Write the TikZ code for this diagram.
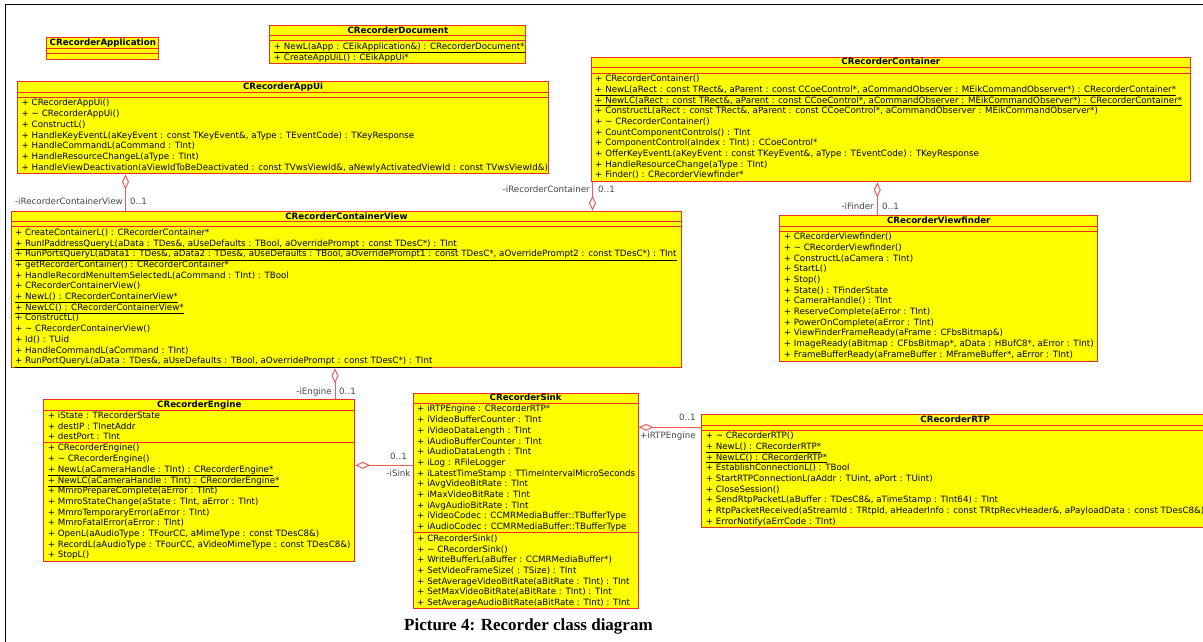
\documentclass[tikz,border=0pt]{standalone}
\usepackage{fontspec}
\setmainfont{DejaVu Sans}
\newfontfamily\capfont{Liberation Serif}
\usetikzlibrary{arrows.meta}
\definecolor{boxfill}{RGB}{255,255,0}
\definecolor{boxline}{RGB}{235,45,40}
\definecolor{linkline}{RGB}{240,90,90}
\definecolor{rolegray}{RGB}{70,70,70}

\begin{document}
\begin{tikzpicture}[x=1pt, y=-1pt,
        classbox/.style={draw=boxline, fill=boxfill, line width=1pt, anchor=north west, inner sep=0pt},
        classtitle/.style={anchor=base, inner sep=0pt, font=\fontsize{8.7}{10.7}\selectfont\bfseries},
        sep/.style={draw=boxline, line width=0.8pt},
        member/.style={anchor=base west, inner sep=0pt, font=\fontsize{8.7}{10.7}\selectfont},
        role/.style={inner sep=0pt, text=rolegray, font=\fontsize{8.7}{10.7}\selectfont},
        aggr/.style={draw=linkline, line width=1pt, {Diamond[open,length=15pt,width=7pt]}-}]
        \useasboundingbox (0,0) rectangle (1203,642);
        % page frame
        \draw[line width=1.3pt] (5.7,660) -- (5.7,4.3) -- (1220,4.3);

        % CRecorderApplication
        \node[classbox, minimum width=112.1pt, minimum height=22pt] (app) at (46.3,37.3) {};
        \node[classtitle] (appT) at ([yshift=-8.4pt]app.north) {CRecorderApplication};
        \draw[sep] (46.3,48.3) -- (158.4,48.3);
        \draw[sep] (46.3,53.3) -- (158.4,53.3);

        % CRecorderDocument
        \node[classbox, minimum width=256pt, minimum height=37.7pt] (doc) at (269.4,25.3) {};
        \node[classtitle] (docT) at ([yshift=-8pt]doc.north) {CRecorderDocument};
        \draw[sep] (269.4,35.7) -- (525.4,35.7);
        \draw[sep] (269.4,40.7) -- (525.4,40.7);
        \foreach \m [count=\i] in {{\underline{+ NewL(aApp : CEikApplication\&) : CRecorderDocument*}},
                {+ CreateAppUiL() : CEikAppUi*}} {
            \node[member] (doc-\i) at (273.7,38.65+10.7*\i) {\m};
            }

        % CRecorderAppUi
        \node[classbox, minimum width=530.8pt, minimum height=92.3pt] (appui) at (17.2,81) {};
        \node[classtitle] (appuiT) at ([yshift=-8.7pt]appui.north) {CRecorderAppUi};
        \draw[sep] (17.2,92.3) -- (548,92.3);
        \draw[sep] (17.2,97.3) -- (548,97.3);
        \foreach \m [count=\i] in {{+ CRecorderAppUi()},
                {+ \textasciitilde{} CRecorderAppUi()},
                {+ ConstructL()},
                {+ HandleKeyEventL(aKeyEvent : const TKeyEvent\&, aType : TEventCode) : TKeyResponse},
                {+ HandleCommandL(aCommand : TInt)},
                {+ HandleResourceChangeL(aType : TInt)},
                {+ HandleViewDeactivation(aViewIdToBeDeactivated : const TVwsViewId\&, aNewlyActivatedViewId : const TVwsViewId\&)}} {
            \node[member] (appui-\i) at (21.5,95.25+10.7*\i) {\m};
            }

        % CRecorderContainer
        \node[classbox, minimum width=599.2pt, minimum height=124.6pt] (cont) at (590.7,56.7) {};
        \node[classtitle] (contT) at ([yshift=-8.3pt]cont.north) {CRecorderContainer};
        \draw[sep] (590.7,67.7) -- (1189.9,67.7);
        \draw[sep] (590.7,73) -- (1189.9,73);
        \foreach \m [count=\i] in {{+ CRecorderContainer()},
                {\underline{+ NewL(aRect : const TRect\&, aParent : const CCoeControl*, aCommandObserver : MEikCommandObserver*) : CRecorderContainer*}},
                {\underline{+ NewLC(aRect : const TRect\&, aParent : const CCoeControl*, aCommandObserver : MEikCommandObserver*) : CRecorderContainer*}},
                {+ ConstructL(aRect : const TRect\&, aParent : const CCoeControl*, aCommandObserver : MEikCommandObserver*)},
                {+ \textasciitilde{} CRecorderContainer()},
                {+ CountComponentControls() : TInt},
                {+ ComponentControl(aIndex : TInt) : CCoeControl*},
                {+ OfferKeyEventL(aKeyEvent : const TKeyEvent\&, aType : TEventCode) : TKeyResponse},
                {+ HandleResourceChange(aType : TInt)},
                {+ Finder() : CRecorderViewfinder*}} {
            \node[member] (cont-\i) at (595,70.95+10.7*\i) {\m};
            }

        % CRecorderContainerView
        \node[classbox, minimum width=670.7pt, minimum height=156.6pt] (cview) at (10.6,210.7) {};
        \node[classtitle] (cviewT) at ([yshift=-8.3pt]cview.north) {CRecorderContainerView};
        \draw[sep] (10.6,221.7) -- (681.3,221.7);
        \draw[sep] (10.6,226.7) -- (681.3,226.7);
        \foreach \m [count=\i] in {{+ CreateContainerL() : CRecorderContainer*},
                {\underline{+ RunIPaddressQueryL(aData : TDes\&, aUseDefaults : TBool, aOverridePrompt : const TDesC*) : TInt}},
                {\underline{+ RunPortsQueryL(aData1 : TDes\&, aData2 : TDes\&, aUseDefaults : TBool, aOverridePrompt1 : const TDesC*, aOverridePrompt2 : const TDesC*) : TInt}},
                {+ getRecorderContainer() : CRecorderContainer*},
                {+ HandleRecordMenuItemSelectedL(aCommand : TInt) : TBool},
                {+ CRecorderContainerView()},
                {\underline{+ NewL() : CRecorderContainerView*}},
                {\underline{+ NewLC() : CRecorderContainerView*}},
                {+ ConstructL()},
                {+ \textasciitilde{} CRecorderContainerView()},
                {+ Id() : TUid},
                {+ HandleCommandL(aCommand : TInt)},
                {\underline{+ RunPortQueryL(aData : TDes\&, aUseDefaults : TBool, aOverridePrompt : const TDesC*) : TInt}}} {
            \node[member] (cview-\i) at (14.9,224.65+10.7*\i) {\m};
            }

        % CRecorderViewfinder
        \node[classbox, minimum width=318pt, minimum height=145.7pt] (vfind) at (779.3,215.3) {};
        \node[classtitle] (vfindT) at ([yshift=-8.4pt]vfind.north) {CRecorderViewfinder};
        \draw[sep] (779.3,226) -- (1097.3,226);
        \draw[sep] (779.3,231) -- (1097.3,231);
        \foreach \m [count=\i] in {{+ CRecorderViewfinder()},
                {+ \textasciitilde{} CRecorderViewfinder()},
                {+ ConstructL(aCamera : TInt)},
                {+ StartL()},
                {+ Stop()},
                {+ State() : TFinderState},
                {+ CameraHandle() : TInt},
                {+ ReserveComplete(aError : TInt)},
                {+ PowerOnComplete(aError : TInt)},
                {+ ViewFinderFrameReady(aFrame : CFbsBitmap\&)},
                {+ ImageReady(aBitmap : CFbsBitmap*, aData : HBufC8*, aError : TInt)},
                {+ FrameBufferReady(aFrameBuffer : MFrameBuffer*, aError : TInt)}} {
            \node[member] (vfind-\i) at (783.6,228.95+10.7*\i) {\m};
            }

        % CRecorderEngine
        \node[classbox, minimum width=311pt, minimum height=162pt] (engine) at (43.3,399.3) {};
        \node[classtitle] (engineT) at ([yshift=-8.4pt]engine.north) {CRecorderEngine};
        \draw[sep] (43.3,410.7) -- (354.3,410.7);
        \draw[sep] (43.3,442.3) -- (354.3,442.3);
        \foreach \m [count=\i] in {{+ iState : TRecorderState},
                {+ destIP : TInetAddr},
                {+ destPort : TInt}} {
            \node[member] (engineA-\i) at (47.6,407.8+10.7*\i) {\m};
            }
        \foreach \m [count=\i] in {{+ CRecorderEngine()},
                {+ \textasciitilde{} CRecorderEngine()},
                {\underline{+ NewL(aCameraHandle : TInt) : CRecorderEngine*}},
                {\underline{+ NewLC(aCameraHandle : TInt) : CRecorderEngine*}},
                {+ MmroPrepareComplete(aError : TInt)},
                {+ MmroStateChange(aState : TInt, aError : TInt)},
                {+ MmroTemporaryError(aError : TInt)},
                {+ MmroFatalError(aError : TInt)},
                {+ OpenL(aAudioType : TFourCC, aMimeType : const TDesC8\&)},
                {+ RecordL(aAudioType : TFourCC, aVideoMimeType : const TDesC8\&)},
                {+ StopL()}} {
            \node[member] (engineO-\i) at (47.6,440.25+10.7*\i) {\m};
            }

        % CRecorderSink
        \node[classbox, minimum width=225pt, minimum height=215pt] (sink) at (412.7,392.7) {};
        \node[classtitle] (sinkT) at ([yshift=-8pt]sink.north) {CRecorderSink};
        \draw[sep] (412.7,403.3) -- (637.7,403.3);
        \draw[sep] (412.7,532.7) -- (637.7,532.7);
        \foreach \m [count=\i] in {{+ iRTPEngine : CRecorderRTP*},
                {+ iVideoBufferCounter : TInt},
                {+ iVideoDataLength : TInt},
                {+ iAudioBufferCounter : TInt},
                {+ iAudioDataLength : TInt},
                {+ iLog : RFileLogger},
                {+ iLatestTimeStamp : TTimeIntervalMicroSeconds},
                {+ iAvgVideoBitRate : TInt},
                {+ iMaxVideoBitRate : TInt},
                {+ iAvgAudioBitRate : TInt},
                {+ iVideoCodec : CCMRMediaBuffer::TBufferType},
                {+ iAudioCodec : CCMRMediaBuffer::TBufferType}} {
            \node[member] (sinkA-\i) at (417,401.25+10.7*\i) {\m};
            }
        \foreach \m [count=\i] in {{+ CRecorderSink()},
                {+ \textasciitilde{} CRecorderSink()},
                {+ WriteBufferL(aBuffer : CCMRMediaBuffer*)},
                {+ SetVideoFrameSize( : TSize) : TInt},
                {+ SetAverageVideoBitRate(aBitRate : TInt) : TInt},
                {+ SetMaxVideoBitRate(aBitRate : TInt) : TInt},
                {+ SetAverageAudioBitRate(aBitRate : TInt) : TInt}} {
            \node[member] (sinkO-\i) at (417,530.65+10.7*\i) {\m};
            }

        % CRecorderRTP
        \node[classbox, minimum width=506.7pt, minimum height=113pt] (rtp) at (701.3,414.3) {};
        \node[classtitle] (rtpT) at ([yshift=-8pt]rtp.north) {CRecorderRTP};
        \draw[sep] (701.3,425) -- (1208,425);
        \draw[sep] (701.3,430) -- (1208,430);
        \foreach \m [count=\i] in {{+ \textasciitilde{} CRecorderRTP()},
                {\underline{+ NewL() : CRecorderRTP*}},
                {\underline{+ NewLC() : CRecorderRTP*}},
                {+ EstablishConnectionL() : TBool},
                {+ StartRTPConnectionL(aAddr : TUint, aPort : TUint)},
                {+ CloseSession()},
                {+ SendRtpPacketL(aBuffer : TDesC8\&, aTimeStamp : TInt64) : TInt},
                {+ RtpPacketReceived(aStreamId : TRtpId, aHeaderInfo : const TRtpRecvHeader\&, aPayloadData : const TDesC8\&)},
                {+ ErrorNotify(aErrCode : TInt)}} {
            \node[member] (rtp-\i) at (705.6,427.95+10.7*\i) {\m};
            }

        % aggregations
        \coordinate (k1) at (125.5,0);
        \coordinate (k2) at (592.5,0);
        \coordinate (k3) at (877.3,0);
        \coordinate (k4) at (335,0);
        \coordinate (k5) at (0,465.3);
        \coordinate (k6) at (0,427.3);
        \draw[aggr] (appui.south -| k1) -- (cview.north -| k1);
        \draw[aggr] (cview.north -| k2) -- (cont.south -| k2);
        \draw[aggr] (cont.south -| k3) -- (vfind.north -| k3);
        \draw[aggr] (cview.south -| k4) -- (engine.north -| k4);
        \draw[aggr] (engine.east |- k5) -- (sink.west |- k5);
        \draw[aggr] (sink.east |- k6) -- (rtp.west |- k6);

        \node[role, anchor=base east] (r1) at (123,204.7) {-iRecorderContainerView};
        \node[role, anchor=base west] (m1) at (130,204.7) {0..1};
        \node[role, anchor=base east] (r2) at (590,192.3) {-iRecorderContainer};
        \node[role, anchor=base west] (m2) at (598,192.3) {0..1};
        \node[role, anchor=base east] (r3) at (874,209.7) {-iFinder};
        \node[role, anchor=base west] (m3) at (882,209.7) {0..1};
        \node[role, anchor=base east] (r4) at (332,394) {-iEngine};
        \node[role, anchor=base west] (m4) at (339,394) {0..1};
        \node[role, anchor=base east] (m5) at (407,459.7) {0..1};
        \node[role, anchor=base east] (r5) at (410.7,476.7) {-iSink};
        \node[role, anchor=base east] (m6) at (695.8,420.7) {0..1};
        \node[role, anchor=base east] (r6) at (695.8,438.3) {+iRTPEngine};

        \node[anchor=base west, inner sep=0pt, font=\capfont\bfseries\fontsize{17}{20}\selectfont] (caption) at (404,630) {Picture 4: Recorder class diagram};
    \end{tikzpicture}
\end{document}
